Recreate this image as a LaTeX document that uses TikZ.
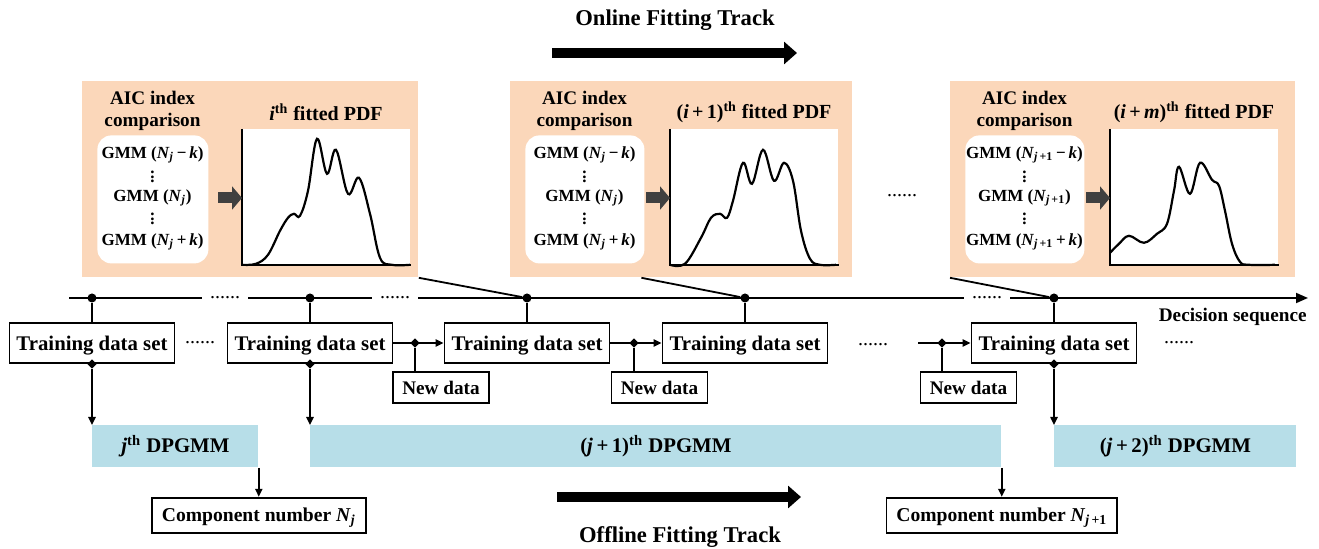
\documentclass[tikz,border=0pt]{standalone}
\usepackage{fontspec}
\setmainfont{Liberation Serif}
\usetikzlibrary{shapes.geometric, arrows.meta, positioning}

\definecolor{peach}{RGB}{251,215,186}
\definecolor{skyband}{RGB}{183,222,232}
\definecolor{darkarrow}{RGB}{64,64,64}

\newcommand{\Nsub}[1]{\textit{N}\textsubscript{#1}}
\newcommand{\vdotsgmm}{\vbox{\baselineskip2.1pt\lineskiplimit0pt\hbox{.}\hbox{.}\hbox{.}}}

\begin{document}
\begin{tikzpicture}[
        x=0.5pt, y=-0.5pt,
        font=\bfseries\fontsize{10.4}{12}\selectfont,
        wire/.style={line width=0.9pt},
        line/.style={-{Triangle[length=4pt, width=3.6pt]}, line width=0.9pt},
        box/.style={rectangle, draw=black, line width=0.9pt, fill=white, inner sep=0pt, text depth=0pt},
        tds/.style={box, minimum width=82.5pt, minimum height=20pt},
        newbox/.style={box, minimum width=48pt, minimum height=15.5pt, font=\bfseries\fontsize{9.6}{11}\selectfont},
        compbox/.style={box, minimum height=17.5pt, inner xsep=5pt, font=\bfseries\fontsize{9.8}{11}\selectfont},
        band/.style={rectangle, fill=skyband, inner sep=0pt, minimum height=21pt, anchor=north west},
        panel/.style={rectangle, fill=peach, inner sep=0pt, minimum height=98pt, anchor=north west},
        gmmbox/.style={rectangle, fill=white, rounded corners=7pt, inner sep=0pt, minimum height=64pt, anchor=north west},
        plotbox/.style={rectangle, fill=white, inner sep=0pt, minimum width=84pt, minimum height=67.5pt, anchor=north west},
        gmm/.style={inner sep=0pt, font=\bfseries\fontsize{8.5}{10}\selectfont},
        head/.style={inner sep=0pt, align=center, font=\bfseries\fontsize{9.6}{11}\selectfont},
        title/.style={inner sep=0pt, font=\bfseries\fontsize{10}{12}\selectfont},
        ellip/.style={inner xsep=4pt, inner ysep=0pt, font=\mdseries\fontsize{10}{12}\selectfont},
        junc/.style={circle, fill=black, inner sep=0pt, minimum size=4.5pt},
        tap/.style={diamond, fill=black, inner sep=0pt, minimum size=4.8pt},
        curve/.style={line width=1.1pt},
        track/.style={line width=5pt, -{Triangle[length=6.5pt, width=11pt]}},
        fitarrow/.style={draw=darkarrow, line width=5.5pt, -{Triangle[length=5pt, width=11.5pt]}},
        trackname/.style={inner sep=0pt, font=\bfseries\fontsize{11.3}{13}\selectfont}
    ]
    \useasboundingbox (0,0) rectangle (1319,549);

    % online fitting track
    \node[trackname] (online) at (675,20) {Online Fitting Track};
    \coordinate (on1) at (552,53);
    \coordinate (on2) at (797,53);
    \draw[track] (on1) -- (on2);

    \foreach \n/\px/\pw/\wb/\sb/\ttl in {
        1/82/336/111/{\textit{j}}/{\textit{i}\textsuperscript{th} fitted PDF},
        2/510/342/119/{\textit{j}}/{(\textit{i}\,+\,1)\textsuperscript{th} fitted PDF},
        3/950/345/119/{\textit{j}\,+1}/{(\textit{i}\,+\,\textit{m})\textsuperscript{th} fitted PDF}}{
        \node[panel, minimum width=\pw*0.5pt] (panel\n) at (\px,81) {};
        \node[gmmbox, minimum width=\wb*0.5pt] (gmmbox\n) at (\px+15,135) {};
        \node[head] (aic\n) at (\px+15+\wb/2,111) {AIC index\\comparison};
        \node[gmm] (gtop\n) at (\px+15+\wb/2,155) {GMM (\Nsub{\sb}\,−\,\textit{k})};
        \node[gmm] (gdota\n) at (\px+15+\wb/2,177) {\vdotsgmm};
        \node[gmm] (gmid\n) at (\px+15+\wb/2,198) {GMM (\Nsub{\sb})};
        \node[gmm] (gdotb\n) at (\px+15+\wb/2,219) {\vdotsgmm};
        \node[gmm] (gbot\n) at (\px+15+\wb/2,242) {GMM (\Nsub{\sb}\,+\,\textit{k})};
        \node[plotbox] (plot\n) at (\px+160,129) {};
        \node[title] (title\n) at (\px+244,112) {\ttl};
        \draw[wire] (plot\n.north west) |- (plot\n.south east);
        \draw[fitarrow] (\px+136,198) -- (plot\n.west |- gmid\n);
    }
    \node[ellip] (gap) at (902,196) {......};

    % fitted pdf curves
    \begin{scope}[shift={(plot1.south west)}, yscale=-1]
        \draw[curve] plot[smooth, tension=0.6] coordinates {(0,0) (14,1) (26,10) (38,34) (46,47) (52,51) (58,49) (66,74) (75,126) (85,91) (94,115) (106,71) (117,87) (128,51) (138,7) (150,0) (168,0)};
    \end{scope}
    \begin{scope}[shift={(plot2.south west)}, yscale=-1]
        \draw[curve] plot[smooth, tension=0.6] coordinates {(0,0) (15,1) (31,27) (41,47) (50,51) (57,47) (63,64) (73,102) (82,81) (93,115) (104,84) (114,102) (123,84) (131,34) (140,6) (150,0) (166,0)};
    \end{scope}
    \begin{scope}[shift={(plot3.south west)}, yscale=-1]
        \draw[curve] plot[smooth, tension=0.6] coordinates {(0,12) (9,21) (19,29) (34,22) (47,31) (57,41) (64,74) (69,98) (80,71) (90,102) (102,85) (109,79) (115,54) (122,21) (130,3) (139,0) (165,0)};
    \end{scope}

    % decision sequence
    \coordinate (tl0) at (69,298);
    \coordinate (tl1) at (1308,298);
    \node[ellip] (e1) at (225,298) {......};
    \node[ellip] (e2) at (395,298) {......};
    \node[ellip] (e3) at (987,298) {......};
    \draw[wire] (tl0) -- (e1.west) (e1.east) -- (e2.west) (e2.east) -- (e3.west);
    \draw[wire, -{Triangle[length=6pt, width=5pt]}] (e3.east) -- (tl1);
    \node[head, anchor=east] (decision) at (1307,317) {Decision sequence};

    \foreach \n/\tx in {1/92, 2/310, 3/527, 4/745, 5/1054}{
        \node[tds] (td\n) at (\tx,343) {Training data set};
        \node[junc] (j\n) at (\tx,298) {};
        \draw[wire] (j\n) -- (td\n);
    }
    \draw[wire] (panel1.south east) -- (j3);
    \draw[wire] ([xshift=-20pt]panel2.south) -- (j4);
    \draw[wire] (panel3.south west) -- (j5);

    \node[ellip] (e4) at (200,343) {......};
    \node[ellip] (e5) at (873,345) {......};
    \node[ellip] (e6) at (1179,343) {......};

    % new data
    \coordinate (in3) at (918,343);
    \draw[line] (td2) -- (td3);
    \draw[line] (td3) -- (td4);
    \draw[line] (in3) -- (td5);
    \foreach \n/\tx/\nx in {1/415/441, 2/634/659.5, 3/942/968.5}{
        \node[newbox] (nd\n) at (\nx,387.5) {New data};
        \node[tap] (t\n) at (\tx,343) {};
        \draw[wire] (t\n) -- (t\n |- nd\n.north);
    }

    % offline fitting track
    \node[band, minimum width=83pt] (band1) at (92,425) {\textit{j}\textsuperscript{th} DPGMM};
    \node[band, minimum width=345.5pt] (band2) at (310,425) {(\textit{j}\,+\,1)\textsuperscript{th} DPGMM};
    \node[band, minimum width=121pt] (band3) at (1054,425) {(\textit{j}\,+\,2)\textsuperscript{th} DPGMM};
    \foreach \n/\b in {1/1, 2/2, 5/3}{
        \node[tap] (s\n) at (td\n.south) {};
        \draw[line] (s\n) -- (band\b.north west);
    }
    \node[compbox, below=14.5pt of band1.south east] (comp1) {Component number \Nsub{\textit{j}}};
    \node[compbox, below=14.5pt of band2.south east] (comp2) {Component number \Nsub{\textit{j}\,+1}};
    \draw[line] (band1.south east) -- (comp1);
    \draw[line] (band2.south east) -- (comp2);

    \coordinate (off1) at (557,497);
    \coordinate (off2) at (801,497);
    \draw[track] (off1) -- (off2);
    \node[trackname] (offline) at (680,537) {Offline Fitting Track};
\end{tikzpicture}
\end{document}
